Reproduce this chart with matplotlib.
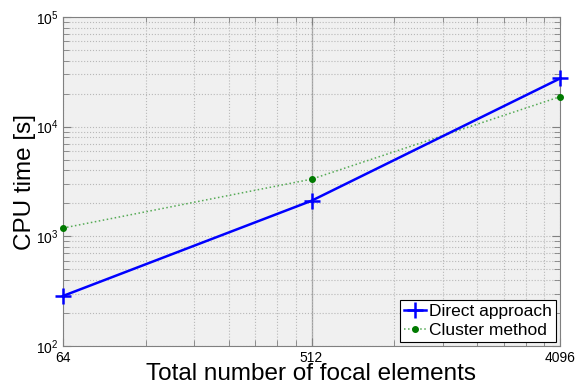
import matplotlib
matplotlib.use('Agg')
from matplotlib import pyplot as plt
from matplotlib import ticker

# values
elements = [64, 512, 4096]
direct_time = [286, 2110, 27500]
cluster_time = [1190, 3320, 18750]

plt.rcParams['font.family'] = ['Liberation Sans', 'DejaVu Sans']

fig = plt.figure(figsize=(5.8, 3.85), dpi=100)
ax = fig.add_axes([63 / 580, 1 - 346 / 385, 497 / 580, 329 / 385])
ax.set_facecolor('#f0f0f0')

ax.plot(elements, direct_time, color='#0000ff', lw=1.8, marker='+',
        ms=12, mew=1.8, label='Direct approach', clip_on=False, zorder=4)
# dotted line renders paler than the dots in the original
ax.plot(elements, cluster_time, color='#55aa55', lw=1.1, ls=':',
        marker='o', ms=4, mfc='#007a00', mec='#007a00',
        label='Cluster method', clip_on=False, zorder=3)

ax.set_xscale('log', base=8)
ax.set_yscale('log')
ax.set_xlim(64, 4096)
ax.set_ylim(1e2, 1e5)

ax.xaxis.set_major_locator(ticker.FixedLocator(elements))
ax.xaxis.set_major_formatter(ticker.FixedFormatter([str(e) for e in elements]))
ax.xaxis.set_minor_locator(ticker.LogLocator(base=8, subs=range(2, 8)))
ax.xaxis.set_minor_formatter(ticker.NullFormatter())
ax.yaxis.set_major_locator(ticker.LogLocator(base=10))
ax.yaxis.set_minor_locator(ticker.LogLocator(base=10, subs=range(2, 10)))
ax.yaxis.set_minor_formatter(ticker.NullFormatter())

ax.grid(which='both', color='#b8b8b8', ls=':', lw=0.8)
# the middle vertical grid line shows up solid in the original
ax.axvline(512, color='#a0a0a0', lw=0.9, zorder=0.5)
ax.set_axisbelow(True)

for s in ax.spines.values():
    s.set_color('#808080')
ax.tick_params(which='both', direction='in', top=True, right=True,
               color='#808080', labelsize=10)
ax.tick_params(which='major', length=6)
ax.tick_params(which='minor', length=4)

ax.set_xlabel('Total number of focal elements', fontsize=17.5, labelpad=-1)
ax.set_ylabel('CPU time [s]', fontsize=17.5, labelpad=0)

leg = ax.legend(loc='lower right', fontsize=12.5, fancybox=False,
                framealpha=1, edgecolor='black', borderaxespad=0.25,
                handlelength=1.3, handletextpad=0.15, borderpad=0.22,
                labelspacing=0.2)
leg.get_frame().set_linewidth(0.8)

fig.savefig('out.png', dpi=100)
